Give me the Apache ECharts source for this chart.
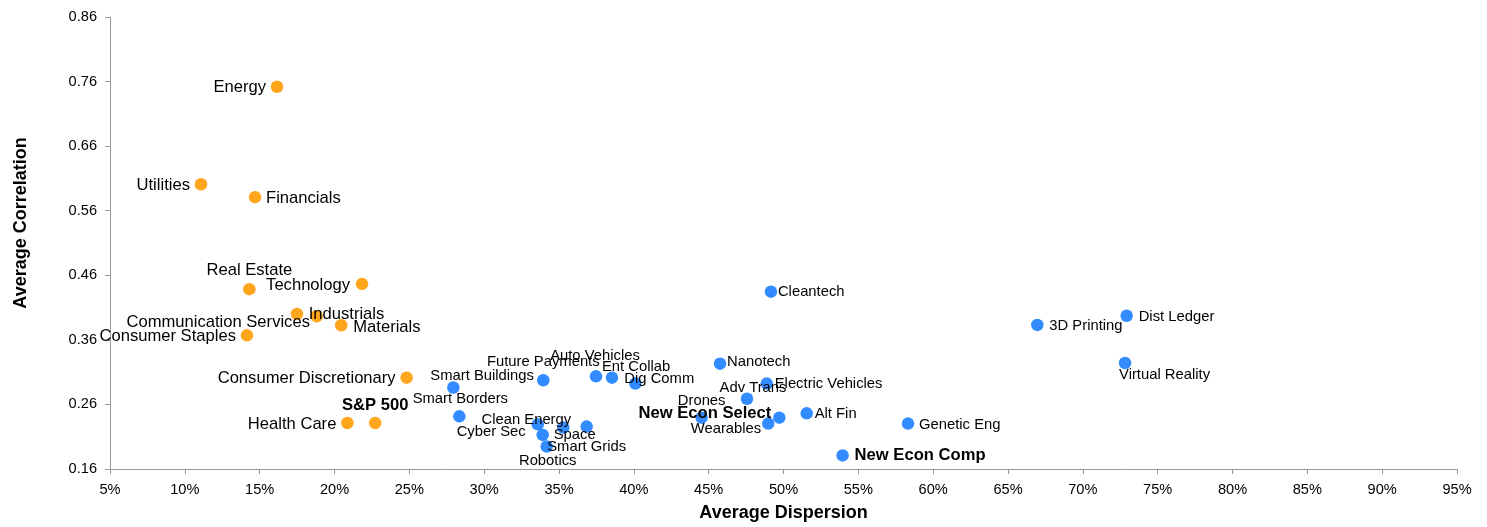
<!DOCTYPE html>
<html>
<head>
<meta charset="utf-8">
<script src="https://cdn.jsdelivr.net/npm/echarts@6/dist/echarts.min.js"></script>
<style>
html,body{margin:0;padding:0;background:#fff;}
#chart{width:1487px;height:527px;}
</style>
</head>
<body>
<div id="chart"></div>
<script>
// ---- Data ----
const sectorNames = ['Energy','Utilities','Financials','Real Estate','Technology','Communication Services','Industrials','Materials','Consumer Staples','Consumer Discretionary','Health Care','S&P 500'];
const sectorDispersion = [16.16, 11.08, 14.69, 14.31, 21.84, 17.49, 18.81, 20.45, 14.15, 24.82, 20.86, 22.72];
const sectorCorrelation = [0.752, 0.601, 0.581, 0.4385, 0.4466, 0.400, 0.3965, 0.3826, 0.367, 0.3015, 0.2312, 0.2312];

const themeNames = ['Smart Buildings','Smart Borders','Future Payments','Auto Vehicles','Ent Collab','Dig Comm','Cyber Sec','Space','Clean Energy','Smart Grids','Robotics','Drones','Nanotech','Adv Trans','Electric Vehicles','Wearables','New Econ Select','Alt Fin','Genetic Eng','New Econ Comp','Cleantech','3D Printing','Dist Ledger','Virtual Reality'];
const themeDispersion = [27.94, 28.34, 33.95, 37.47, 38.54, 40.10, 33.58, 33.91, 35.29, 36.85, 34.18, 44.53, 45.76, 47.56, 48.88, 48.98, 49.72, 51.55, 58.32, 53.95, 49.16, 66.96, 72.93, 72.82];
const themeCorrelation = [0.2862, 0.2415, 0.2974, 0.3035, 0.3015, 0.2923, 0.2292, 0.2128, 0.2242, 0.2257, 0.1949, 0.2395, 0.3231, 0.2688, 0.2923, 0.2303, 0.2395, 0.2462, 0.2303, 0.1811, 0.4346, 0.3831, 0.3974, 0.3242];

const xTicks = {min: 5, max: 95, step: 5};
const yTicks = {min: 0.16, max: 0.86, step: 0.1};

const boldNames = ['S&P 500','New Econ Select','New Econ Comp'];

// ---- Label placement (style only): [dx, dy, align] ----
const labelPlace = {
  'Energy': [-11, 1, 'right'],
  'Utilities': [-11, 1, 'right'],
  'Financials': [11, 1, 'left'],
  'Real Estate': [0, -19, 'center'],
  'Technology': [-12, 1, 'right'],
  'Communication Services': [13, 8, 'right'],
  'Industrials': [-8, -2, 'left'],
  'Materials': [12, 2, 'left'],
  'Consumer Staples': [-11, 1, 'right'],
  'Consumer Discretionary': [-11, 1, 'right'],
  'Health Care': [-11, 1, 'right'],
  'S&P 500': [0, -18, 'center'],
  'Smart Buildings': [-23, -12, 'left'],
  'Smart Borders': [1, -17, 'center'],
  'Future Payments': [0, -18, 'center'],
  'Auto Vehicles': [-1, -20, 'center'],
  'Ent Collab': [-10, -11, 'left'],
  'Dig Comm': [-11, -5, 'left'],
  'Cyber Sec': [-12, 8, 'right'],
  'Space': [11, 0, 'left'],
  'Clean Energy': [-37, -8, 'center'],
  'Smart Grids': [0, 20, 'center'],
  'Robotics': [1, 14, 'center'],
  'Drones': [0, -17, 'center'],
  'Nanotech': [7, -2, 'left'],
  'Adv Trans': [6, -11, 'center'],
  'Electric Vehicles': [8, 0, 'left'],
  'Wearables': [-7, 5, 'right'],
  'New Econ Select': [-8, -4, 'right'],
  'Alt Fin': [8, 1, 'left'],
  'Genetic Eng': [11, 1, 'left'],
  'New Econ Comp': [12, 0, 'left'],
  'Cleantech': [7, 0, 'left'],
  '3D Printing': [12, 1, 'left'],
  'Dist Ledger': [12, 1, 'left'],
  'Virtual Reality': [-6, 12, 'left']
};

const FONT = '"Liberation Sans", Arial, Helvetica, sans-serif';

function buildData(names, xs, ys, baseSize) {
  return names.map((n, i) => {
    const p = labelPlace[n] || [10, 0, 'left'];
    const bold = boldNames.indexOf(n) >= 0;
    return {
      name: n,
      value: [xs[i], ys[i]],
      label: {
        show: true,
        position: 'inside',
        offset: [p[0], p[1]],
        align: p[2],
        verticalAlign: 'middle',
        formatter: n,
        color: '#000',
        fontFamily: FONT,
        fontSize: bold ? 16.6 : baseSize,
        fontWeight: bold ? 'bold' : 'normal',
        textBorderWidth: 0
      }
    };
  });
}

const chart = echarts.init(document.getElementById('chart'), null, {renderer: 'canvas'});
chart.setOption({
  animation: false,
  backgroundColor: '#fff',
  grid: {left: 110, right: 30, top: 17, bottom: 56, containLabel: false},
  xAxis: {
    type: 'value',
    min: xTicks.min, max: xTicks.max, interval: xTicks.step,
    name: 'Average Dispersion',
    nameLocation: 'middle',
    nameGap: 35,
    nameTextStyle: {fontFamily: FONT, fontSize: 18, fontWeight: 'bold', color: '#000'},
    axisLine: {show: true, lineStyle: {color: '#999', width: 1}},
    axisTick: {show: true, length: 5, lineStyle: {color: '#999'}},
    axisLabel: {formatter: '{value}%', fontFamily: FONT, fontSize: 14.6, color: '#000', margin: 13},
    splitLine: {show: false}
  },
  yAxis: {
    type: 'value',
    min: yTicks.min, max: yTicks.max, interval: yTicks.step,
    name: 'Average Correlation',
    nameLocation: 'middle',
    nameGap: 80,
    nameRotate: 90,
    nameTextStyle: {fontFamily: FONT, fontSize: 18, fontWeight: 'bold', color: '#000', padding: [0, 0, 0, 40]},
    axisLine: {show: true, lineStyle: {color: '#999', width: 1}},
    axisTick: {show: true, length: 5, lineStyle: {color: '#999'}},
    axisLabel: {formatter: v => v.toFixed(2), fontFamily: FONT, fontSize: 14.6, color: '#000', margin: 13},
    splitLine: {show: false}
  },
  series: [
    {
      type: 'scatter',
      name: 'Sectors',
      symbol: 'circle',
      symbolSize: 12.5,
      itemStyle: {color: '#FFA61C', opacity: 1},
      emphasis: {disabled: true},
      data: buildData(sectorNames, sectorDispersion, sectorCorrelation, 16.6)
    },
    {
      type: 'scatter',
      name: 'Themes',
      symbol: 'circle',
      symbolSize: 12.5,
      itemStyle: {color: '#338CFF', opacity: 1},
      emphasis: {disabled: true},
      data: buildData(themeNames, themeDispersion, themeCorrelation, 14.8)
    }
  ]
});
</script>
</body>
</html>
